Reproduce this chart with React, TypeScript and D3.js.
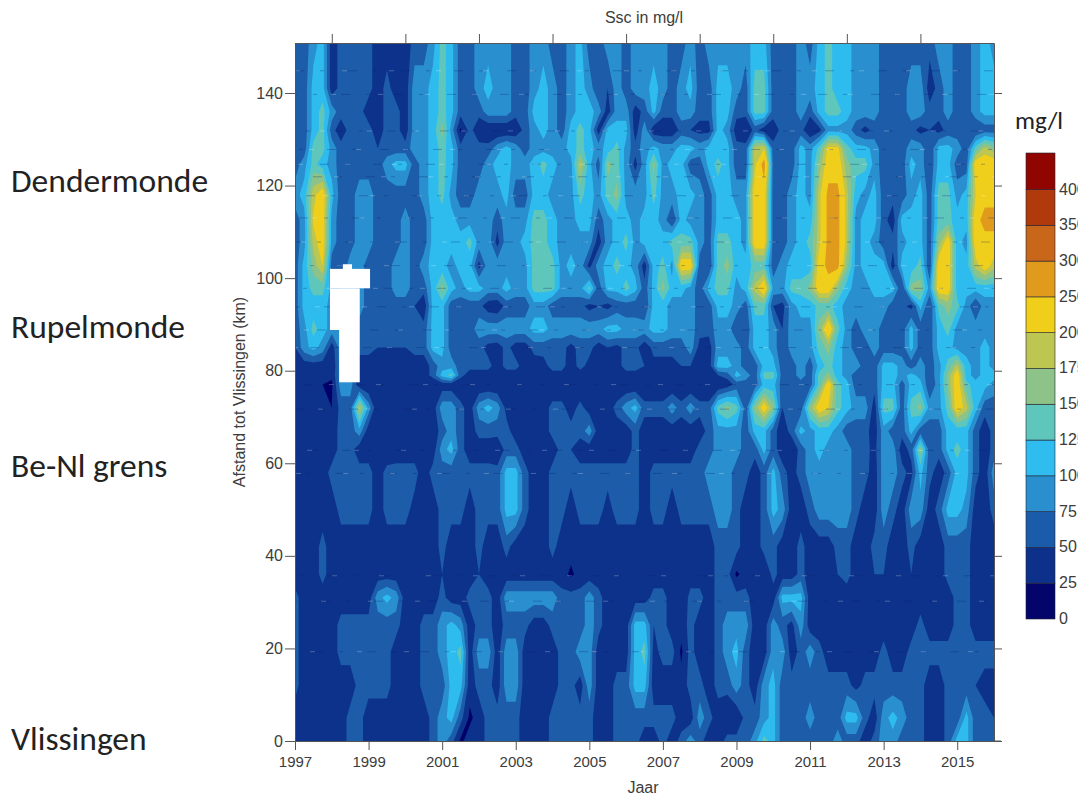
import React, { useRef, useEffect } from 'react';
import * as d3 from 'd3';

// column every quarter of a year, 1997.0 to 2016.0
const years = d3.range(0, 77).map(i => 1997 + i * 0.25);

// distance of each row in km, top row first
const distances = [151, 141, 136, 132, 128, 124.6, 118, 112.5, 107.8, 102.7, 97.8, 94, 89, 85, 81, 79, 77, 72, 67, 63, 58, 50, 42, 36, 31, 25, 19.3, 12, 5, 0];

const km151 = [60,60,90,110, 35,60,60,60, 60,35,35,35, 35,60,60,90, 135,110,60,60, 90,90,90,90, 60,60,90,90, 60,60,90,110, 60,60,90,90, 60,90,90,90, 90,60,60,90, 60,90,90,90, 90,90,110,110, 60,60,60,90, 60,110,135,110, 110,90,90,90, 60,60,60,60, 60,60,90,90, 60,60,90,110, 90];
const km141 = [50,60,110,110, 35,60,60,60, 60,35,60,35, 35,90,90,110, 135,110,60,60, 90,110,90,90, 60,60,90,110, 90,60,90,110, 90,50,50,90, 60,90,90,110, 90,60,90,110, 60,60,110,110, 90,60,135,135, 60,60,60,90, 90,110,135,110, 110,90,90,90, 60,60,60,90, 90,35,60,90, 60,60,90,110, 110];
const km136 = [60,60,110,135, 90,60,60,60, 35,35,60,60, 35,90,90,110, 135,110,60,60, 60,90,90,90, 60,60,110,110, 90,60,90,110, 110,90,35,90, 90,35,60,110, 60,60,90,90, 60,60,110,110, 60,60,135,135, 60,60,60,90, 60,110,135,135, 110,90,90,90, 60,60,60,90, 90,60,60,90, 60,60,90,110, 110];
const km132 = [60,60,110,135, 60,35,60,60, 60,35,60,60, 35,90,90,110, 160,90,20,60, 30,25,25,25, 30,60,90,110, 90,60,110,135, 110,35,110,110, 110,35,90,30, 30,30,60,50, 40,40,110,90, 35,25,60,35, 35,60,60,60, 25,40,90,90, 90,60,40,60, 60,60,60,60, 40,50,40,60, 60,60,50,60, 60];
const km128 = [60,60,135,135, 90,60,60,60, 60,50,60,60, 60,90,90,110, 135,110,60,60, 60,60,90,110, 90,60,90,90, 90,90,110,135, 110,90,110,135, 90,60,90,110, 90,90,110,110, 90,110,110,110, 60,60,185,200, 60,60,60,110, 90,135,210,210, 135,110,110,90, 60,60,60,90, 90,50,110,110, 90,60,135,185, 160];
const km124 = [60,90,135,110, 90,60,60,60, 60,60,90,110, 110,60,90,110, 135,110,60,60, 60,90,110,110, 90,90,110,135, 110,90,90,185, 110,60,160,135, 90,40,90,160, 90,110,110,60, 60,110,135,110, 60,60,190,275, 60,60,60,110, 90,160,225,225, 160,135,135,90, 60,60,60,110, 90,50,110,110, 60,60,225,225, 225];
const km118 = [90,110,190,225, 110,60,60,90, 90,60,60,60, 60,60,90,110, 135,90,60,60, 90,90,90,110, 60,60,110,110, 90,90,90,135, 110,90,135,160, 90,90,90,135, 90,90,110,110, 90,60,110,110, 90,90,225,225, 60,60,90,110, 90,190,265,265, 185,110,90,110, 60,60,60,90, 110,60,135,135, 90,110,200,225, 225];
const km112 = [60,90,205,225, 90,60,60,90, 90,60,60,60, 90,60,60,110, 110,110,90,90, 90,90,60,90, 90,90,135,135, 110,90,90,110, 110,60,90,110, 110,90,110,110, 90,50,110,90, 90,60,110,110, 110,90,225,225, 60,60,90,110, 110,190,265,265, 185,90,110,110, 60,35,110,110, 110,60,135,135, 110,110,225,275, 275];
const km108 = [60,90,185,225, 90,60,60,90, 90,60,60,60, 90,60,60,110, 110,110,110,135, 90,90,40,90, 90,110,135,135, 110,90,90,90, 90,35,90,110, 135,90,110,110, 110,135,135,135, 90,60,135,135, 110,90,225,225, 60,60,90,110, 135,190,265,265, 185,90,110,90, 60,60,90,110, 110,60,160,225, 110,90,225,225, 225];
const km103 = [60,110,160,200, 60,50,90,90, 60,60,60,90, 90,60,90,110, 110,90,110,110, 40,90,90,90, 90,90,135,135, 135,90,110,90, 40,90,110,135, 110,90,35,110, 135,90,225,225, 60,50,135,160, 110,110,135,135, 60,90,110,110, 110,225,265,265, 160,90,110,110, 110,35,110,110, 135,50,225,225, 110,110,185,225, 185];
const km98 = [60,110,135,135, 90,90,90,90, 60,60,60,90, 90,60,60,110, 160,110,90,110, 110,90,90,110, 90,90,135,135, 135,90,90,90, 135,60,110,110, 135,110,60,110, 160,110,110,90, 60,110,135,135, 90,110,185,240, 90,90,135,135, 160,225,225,160, 110,90,90,110, 110,110,50,160, 160,90,225,225, 110,110,110,110, 110];
const km94 = [60,110,110,110, 90,90,90,90, 60,60,60,60, 60,50,30,110, 110,60,60,60, 60,35,30,60, 60,60,90,90, 60,60,60,60, 40,50,40,60, 60,60,50,110, 110,90,90,90, 60,60,110,110, 90,60,135,135, 50,40,90,110, 110,135,135,110, 90,90,90,90, 90,60,60,40, 110,50,135,160, 135,90,50,90, 90];
const km89 = [60,90,135,110, 90,90,90,60, 60,60,60,60, 60,60,60,110, 110,60,50,60, 90,90,90,90, 90,90,110,110, 90,90,90,90, 90,90,110,110, 90,90,90,110, 110,90,90,90, 60,60,90,90, 50,50,110,110, 90,50,90,90, 90,160,240,135, 90,60,90,90, 60,60,60,110, 60,60,110,135, 90,90,90,90, 90];
const km85 = [50,90,110,90, 35,90,90,60, 60,50,50,50, 50,60,60,110, 110,60,60,60, 60,40,35,60, 35,35,60,60, 60,60,40,60, 60,35,50,40, 60,60,30,60, 60,60,60,90, 40,35,90,90, 90,60,110,110, 90,50,90,90, 90,135,160,110, 90,60,60,90, 60,60,60,110, 60,60,110,110, 90,90,90,110, 90];
const km81 = [35,35,35,35, 25,90,90,35, 35,35,35,35, 35,35,35,60, 90,90,60,60, 60,60,35,60, 60,35,35,40, 60,60,35,60, 40,35,40,40, 60,60,50,40, 40,40,50,50, 35,35,110,110, 90,60,60,110, 110,60,60,90, 60,110,135,110, 90,90,60,60, 110,110,90,60, 90,60,90,135, 185,110,90,110, 90];
const km79 = [35,35,35,35, 30,90,90,35, 35,35,35,35, 35,35,35,60, 110,135,60,35, 35,35,35,35, 35,35,35,35, 40,40,35,35, 35,35,35,35, 40,40,35,35, 35,35,35,40, 35,35,50,60, 110,90,60,135, 135,60,60,90, 60,135,160,110, 90,60,60,60, 110,110,90,110, 90,60,90,160, 225,110,90,110, 110];
const km77 = [35,30,30,25, 20,90,90,30, 25,25,25,25, 25,25,25,25, 35,35,25,25, 25,25,25,25, 25,25,25,25, 25,25,25,25, 25,25,25,25, 25,25,25,25, 25,25,25,25, 25,25,25,35, 60,60,60,110, 110,60,60,60, 60,135,225,135, 110,60,60,60, 110,110,60,110, 110,50,90,160, 225,135,110,110, 90];
const km72 = [35,35,35,25, 25,60,60,185, 90,25,25,35, 35,30,35,35, 90,90,60,35, 90,110,90,40, 35,35,35,35, 60,60,35,60, 35,35,35,60, 90,110,60,60, 60,90,60,90, 60,60,135,160, 135,60,160,225, 160,50,50,60, 160,225,200,135, 110,90,90,35, 135,135,60,135, 160,90,90,135, 225,185,110,60, 60];
const km67 = [35,35,35,35, 35,60,60,90, 35,35,35,35, 35,35,35,35, 60,90,60,35, 60,60,60,60, 35,35,35,35, 60,60,60,60, 90,35,35,35, 35,60,35,35, 35,35,35,35, 35,60,90,90, 90,60,110,110, 60,35,60,110, 90,110,110,90, 60,60,60,35, 90,60,60,110, 60,60,60,110, 110,110,60,35, 60];
const km63 = [35,35,28,28, 35,60,60,35, 35,28,28,35, 35,35,35,35, 90,110,60,35, 35,35,28,60, 60,35,35,35, 35,60,50,35, 35,35,35,35, 35,60,35,35, 35,35,35,35, 60,60,90,90, 90,60,60,110, 60,35,30,60, 90,110,90,90, 90,60,60,40, 90,90,35,60, 160,60,60,110, 135,110,60,35, 60];
const km58 = [35,35,35,35, 60,60,60,60, 60,35,60,60, 60,60,35,60, 60,60,60,60, 60,60,60,110, 110,60,35,35, 60,60,60,60, 60,60,60,60, 60,60,35,60, 60,60,60,60, 60,90,90,90, 60,60,35,60, 110,60,40,60, 90,90,90,90, 90,60,60,35, 90,90,60,40, 110,60,35,60, 110,110,60,35, 90];
const km50 = [35,35,35,35, 35,60,60,60, 60,35,60,60, 60,40,35,35, 60,60,60,35, 60,60,60,110, 110,60,35,35, 60,60,35,60, 60,60,40,60, 60,60,35,60, 60,35,60,60, 60,60,90,90, 60,35,35,60, 110,90,35,35, 60,90,90,90, 90,60,35,35, 90,60,35,90, 90,35,60,110, 110,90,35,35, 60];
const km42 = [35,35,35,60, 35,35,35,35, 35,35,35,35, 35,35,35,35, 60,35,35,35, 60,35,35,60, 35,35,35,35, 60,35,35,35, 35,35,35,35, 35,35,35,35, 35,35,35,35, 35,35,60,60, 60,35,35,60, 60,35,35,60, 35,35,35,60, 60,35,35,60, 60,35,35,60, 35,35,35,60, 60,60,35,35, 35];
const km36 = [35,35,35,60, 35,35,35,35, 35,35,35,35, 35,35,35,35, 50,35,35,35, 50,35,35,35, 35,35,35,35, 35,35,20,35, 35,35,35,35, 35,35,30,35, 35,35,35,35, 35,35,60,60, 20,35,35,25, 60,35,35,60, 35,35,35,50, 60,35,35,50, 50,35,35,50, 35,35,35,60, 60,60,35,35, 35];
const km31 = [60,35,35,35, 35,35,35,35, 35,90,110,90, 35,35,35,35, 60,35,35,60, 60,60,35,90, 90,90,90,90, 90,60,60,60, 90,60,35,35, 35,35,35,60, 60,35,25,60, 60,35,60,60, 60,60,35,35, 35,110,110,110, 35,35,35,35, 35,35,35,35, 35,35,35,35, 35,35,35,35, 60,60,35,35, 35];
const km25 = [60,35,35,35, 35,60,60,60, 60,60,60,60, 35,35,60,60, 90,110,90,35, 60,60,35,60, 60,60,35,35, 60,60,60,60, 90,60,35,35, 35,110,110,50, 60,35,35,60, 35,35,60,90, 90,90,35,35, 90,60,40,90, 35,35,35,35, 35,35,35,35, 35,35,35,35, 60,35,35,35, 60,60,35,35, 35];
const km19 = [60,35,35,35, 35,60,60,60, 60,60,60,35, 35,35,60,60, 90,110,135,35, 90,90,35,90, 90,35,35,35, 35,60,60,90, 90,35,35,35, 35,110,135,40, 60,60,20,60, 35,35,60,90, 110,60,35,35, 90,90,35,60, 90,60,35,35, 35,35,35,35, 60,35,35,60, 60,60,60,60, 60,60,60,60, 60];
const km12 = [60,35,35,35, 35,35,35,60, 60,60,60,35, 35,35,60,60, 60,110,110,35, 60,60,35,90, 90,35,35,35, 35,60,60,35, 90,35,35,60, 60,110,110,35, 35,35,35,60, 60,35,60,60, 90,60,35,90, 110,60,60,60, 60,60,60,60, 60,40,60,60, 60,60,60,60, 60,35,35,60, 60,60,50,40, 40];
const km5 = [35,35,35,35, 35,35,60,60, 35,35,35,35, 35,35,35,60, 90,110,60,20, 35,60,60,60, 60,35,35,35, 60,60,60,60, 60,35,35,60, 60,60,60,60, 60,60,35,35, 90,60,35,25, 25,60,60,90, 110,60,60,60, 90,60,60,60, 110,110,60,35, 90,110,90,60, 60,35,35,60, 60,110,60,60, 50];
const km0 = [35,35,35,35, 35,35,60,60, 35,35,35,35, 35,35,35,60, 90,60,20,35, 35,60,60,60, 60,35,35,35, 60,60,60,60, 60,35,35,60, 60,60,35,35, 60,35,60,90, 60,35,35,60, 60,60,90,135, 110,60,60,60, 60,60,60,90, 60,60,35,60, 90,90,60,60, 60,35,35,60, 110,110,60,60, 60];

const rows = [km151, km141, km136, km132, km128, km124, km118, km112, km108, km103, km98, km94, km89, km85, km81, km79, km77, km72, km67, km63, km58, km50, km42, km36, km31, km25, km19, km12, km5, km0];

// colour bar: lower edge of each band and its colour
const levels = [0, 25, 50, 75, 100, 125, 150, 175, 200, 250, 300, 350, 400];
const levelColours = ['#03056b', '#0d318b', '#1a5ca9', '#2a8fcf', '#2fbcee', '#5fc6bb', '#8dc288', '#bcc651', '#f0cf1a', '#e09a1c', '#c8661a', '#b03a0c', '#900500'];

// measuring stations, show up as dashes over the contours
const stations = [144.8, 139.7, 131.8, 127.8, 124.6, 121.9, 117.8, 113, 107.8, 102.7, 97.8, 93.8, 88.8, 85, 77, 71.7, 62.8, 57.8, 35.7, 30.2, 19.3];

// no data: [from year, to year, low km, high km]
const gapFrom = [1997.95, 1997.95, 1998.2, 1998.3];
const gapTo = [1999.04, 1998.76, 1998.76, 1998.55];
const gapLow = [97.8, 88.8, 77.5, 101];
const gapHigh = [102, 97.8, 88.8, 103];

const placeNames = ['Dendermonde', 'Rupelmonde', 'Be-Nl grens', 'Vlissingen'];
const placeY = [192, 338, 477, 750];

const oddYears = d3.range(1997, 2016, 2);
const evenYears = d3.range(1998, 2016, 2);
const kmTicks = d3.range(0, 141, 20);

const axisFont = '"Liberation Sans", Arial, sans-serif';
const labelFont = 'Carlito, Lato, "Open Sans", sans-serif';
const inkColour = '#3c3c3c';

export default function App() {
    const svgRef = useRef<SVGSVGElement | null>(null);

    useEffect(() => {
        if (!svgRef.current) return;
        const svg = d3.select(svgRef.current);
        svg.selectAll('*').remove();

        const left = 295, right = 994, top = 43, bottom = 741;
        const x = d3.scaleLinear().domain([1997, 2016]).range([left, right]);
        const y = d3.scaleLinear().domain([0, 150.8]).range([bottom, top]);

        // contour coordinates back to year / km; grid values sit at index + 0.5
        const colToYear = d3.scaleLinear().domain([0.5, years.length - 0.5]).range([1997, 2016]).clamp(true);
        const rowToKm = d3.scaleLinear().domain(distances.map((_, i) => i + 0.5)).range(distances).clamp(true);

        const projection = d3.geoTransform({
            point(px: number, py: number) {
                (this as any).stream.point(x(colToYear(px)), y(rowToKm(py)));
            }
        });
        const path = d3.geoPath(projection);

        const bands = d3.contours()
            .size([years.length, distances.length])
            .thresholds(levels)(rows.flat());

        const defs = svg.append('defs');
        defs.append('clipPath').attr('id', 'plot-clip')
            .append('rect').attr('x', left).attr('y', top).attr('width', right - left).attr('height', bottom - top);
        defs.append('filter').attr('id', 'soft')
            .append('feGaussianBlur').attr('stdDeviation', 0.7);

        const plot = svg.append('g').attr('clip-path', 'url(#plot-clip)');

        plot.append('g')
            .attr('filter', 'url(#soft)')
            .selectAll('path')
            .data(bands)
            .enter().append('path')
            .attr('d', d => path(d as any))
            .attr('fill', (_, i) => levelColours[i]);

        const dashes = plot.append('g');
        stations.forEach((km, i) => {
            dashes.append('line')
                .attr('x1', left).attr('x2', right)
                .attr('y1', y(km)).attr('y2', y(km))
                .attr('stroke', '#06206e').attr('stroke-opacity', 0.3)
                .attr('stroke-dasharray', '9 16 4 24')
                .attr('stroke-dashoffset', i * 7);
            dashes.append('line')
                .attr('x1', left).attr('x2', right)
                .attr('y1', y(km)).attr('y2', y(km))
                .attr('stroke', '#ffffff').attr('stroke-opacity', 0.25)
                .attr('stroke-dasharray', '5 42')
                .attr('stroke-dashoffset', i * 11);
        });

        gapFrom.forEach((from, i) => {
            plot.append('rect')
                .attr('x', x(from)).attr('width', x(gapTo[i]) - x(from))
                .attr('y', y(gapHigh[i])).attr('height', y(gapLow[i]) - y(gapHigh[i]))
                .attr('fill', '#fff');
        });

        const axes = svg.append('g').attr('font-family', axisFont);
        const styleAxis = (g, size) => {
            g.attr('font-family', axisFont).attr('font-size', size);
            g.selectAll('.domain').attr('stroke', '#555');
            g.selectAll('.tick line').attr('stroke', '#555');
            g.selectAll('.tick text').attr('fill', inkColour);
        };

        axes.append('g').attr('transform', `translate(0,${bottom})`)
            .call(d3.axisBottom(x).tickValues(oddYears).tickFormat(d3.format('d')).tickSize(9).tickPadding(6).tickSizeOuter(0))
            .call(styleAxis, 15);
        axes.append('g').attr('transform', `translate(0,${top})`)
            .call(d3.axisTop(x).tickValues(evenYears).tickFormat(() => '').tickSize(9).tickSizeOuter(0))
            .call(styleAxis, 15);
        axes.append('g').attr('transform', `translate(${left},0)`)
            .call(d3.axisLeft(y).tickValues(kmTicks).tickFormat(d3.format('d')).tickSize(10).tickPadding(2).tickSizeOuter(0))
            .call(styleAxis, 16);
        axes.append('g').attr('transform', `translate(${right},0)`)
            .call(d3.axisRight(y).tickValues(kmTicks).tickFormat(() => '').tickSize(8).tickSizeOuter(0))
            .call(styleAxis, 15);
        axes.append('line').attr('x1', right).attr('x2', 1001).attr('y1', bottom).attr('y2', bottom).attr('stroke', '#555');

        axes.append('text').attr('x', 644).attr('y', 23).attr('text-anchor', 'middle')
            .attr('font-size', 16).attr('fill', inkColour).text('Ssc in mg/l');
        axes.append('text').attr('x', 643).attr('y', 793).attr('text-anchor', 'middle')
            .attr('font-size', 16).attr('fill', inkColour).text('Jaar');
        axes.append('text').attr('transform', 'translate(245,392) rotate(-90)').attr('text-anchor', 'middle')
            .attr('font-size', 16).attr('fill', inkColour).text('Afstand tot Vlissingen (km)');

        placeNames.forEach((name, i) => {
            svg.append('text')
                .attr('x', 11).attr('y', placeY[i])
                .attr('font-family', labelFont).attr('font-size', 33.5).attr('fill', '#222')
                .text(name);
        });

        // colour bar
        const barY = d3.scalePoint().domain(levels.map(String)).range([619, 189.5]);
        const barTop = 153;
        const bar = svg.append('g');
        levels.forEach((level, i) => {
            const lower = barY(String(level));
            const upper = i < levels.length - 1 ? barY(String(levels[i + 1])) : barTop;
            bar.append('rect')
                .attr('x', 1026).attr('width', 29)
                .attr('y', upper).attr('height', lower - upper)
                .attr('fill', levelColours[i])
                .attr('stroke', '#223').attr('stroke-width', 0.6);
            bar.append('text')
                .attr('x', 1059).attr('y', lower + 5)
                .attr('font-family', axisFont).attr('font-size', 16).attr('fill', inkColour)
                .text(level);
        });
        svg.append('text').attr('x', 1015).attr('y', 129)
            .attr('font-family', labelFont).attr('font-size', 25).attr('fill', '#222')
            .text('mg/l');
    }, []);

    return (
        <svg ref={svgRef} width={1078} height={796} style={{ position: 'absolute', left: 0, top: 0, background: '#fff' }} />
    );
}
